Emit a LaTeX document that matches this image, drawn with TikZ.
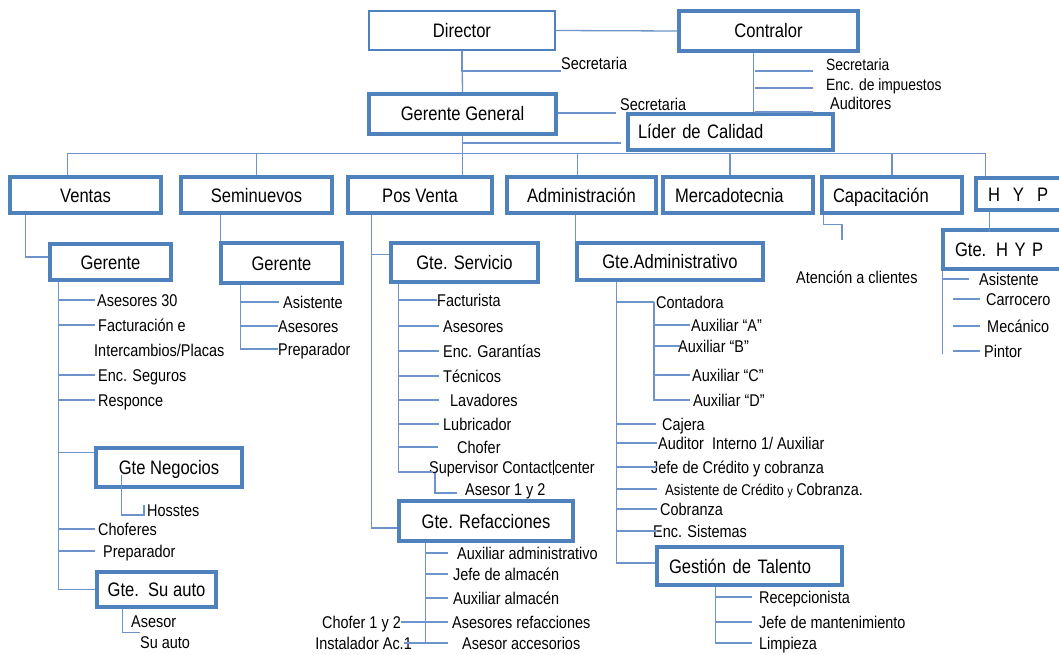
\documentclass[tikz,border=0pt]{standalone}
\usepackage{fontspec}
\setmainfont{Liberation Sans}[FakeStretch=0.85]
\usepackage{tikz}
\definecolor{bxblue}{RGB}{79,129,189}
\definecolor{lnblue}{RGB}{108,148,203}
\begin{document}
\begin{tikzpicture}[
		x=1pt, y=-1pt,
		caja/.style={
			rectangle,
			draw=bxblue,
			line width=3.3pt,
			fill=white,
			inner sep=0pt,
			text height=14pt,
			text depth=0pt,
			font=\fontsize{19.5}{22}\selectfont
		},
		cajafina/.style={
			caja,
			line width=1.2pt
		},
		etiq/.style={
			anchor=west,
			inner sep=0pt,
			text height=12pt,
			text depth=0pt,
			font=\fontsize{17}{20}\selectfont
		},
		etiqch/.style={
			etiq,
			text height=11.5pt,
			font=\fontsize{16.3}{19}\selectfont
		},
		etiqdos/.style={
			anchor=west,
			inner sep=0pt,
			align=left,
			font=\fontsize{17}{21}\selectfont
		},
		linea/.style={
			draw=lnblue,
			line width=1.3pt
		}
		]
		\useasboundingbox (0,0) rectangle (1059,655);
		\fill[white] (0,0) rectangle (1059,655);
		\clip (0,0) rectangle (1059,655);
		% Nodes
		\node[cajafina, minimum width=186, minimum height=39] (dir) at (462,30.5) {Director};
		\node[caja, minimum width=179, minimum height=40] (contr) at (768.5,31) {Contralor};
		\node[caja, minimum width=187, minimum height=40] (gg) at (462.5,114) {Gerente General};
		\node[caja, minimum width=205, minimum height=36, text width=185, align=left] (lider) at (730.5,132) {Líder de Calidad};
		\node[caja, minimum width=151, minimum height=36] (ventas) at (85.5,195) {Ventas};
		\node[caja, minimum width=151, minimum height=36] (semi) at (256.5,195) {Seminuevos};
		\node[caja, minimum width=144, minimum height=36] (posv) at (420,195) {Pos Venta};
		\node[caja, minimum width=149, minimum height=36] (admin) at (581.5,195) {Administración};
		\node[caja, minimum width=150, minimum height=36, text width=126, align=left] (merca) at (738,195) {Mercadotecnia};
		\node[caja, minimum width=140, minimum height=36, text width=118, align=left] (capac) at (892,195) {Capacitación};
		\node[caja, minimum width=94, minimum height=32, text width=70, align=left] (hyp) at (1023,194) {H\ \ Y\ \ P};
		\node[caja, minimum width=121, minimum height=36] (gerV) at (110.5,262) {Gerente};
		\node[caja, minimum width=121, minimum height=40] (gerS) at (281.5,263) {Gerente};
		\node[caja, minimum width=147, minimum height=39] (gser) at (464.5,262.5) {Gte. Servicio};
		\node[caja, minimum width=186, minimum height=37] (gadm) at (670,261.5) {Gte.Administrativo};
		\node[caja, minimum width=123, minimum height=39, text width=99, align=left] (ghyp) at (1004.5,249.5) {Gte. H Y P};
		\node[caja, minimum width=146, minimum height=39] (gneg) at (169,467.5) {Gte Negocios};
		\node[caja, minimum width=119, minimum height=35] (gsua) at (156.5,589.5) {Gte.\ \ Su auto};
		\node[caja, minimum width=174, minimum height=40] (gref) at (486,521) {Gte. Refacciones};
		\node[caja, minimum width=185, minimum height=38, text width=161, align=left] (gtal) at (749.5,566) {Gestión de Talento};
		% Labels
		\node[etiq] (dsec) at (561,64) {Secretaria};
		\node[etiq] (gsec) at (620,105) {Secretaria};
		\node[etiqch] (csec) at (826,65) {Secretaria};
		\node[etiqch] (cimp) at (826,85) {Enc. de impuestos};
		\node[etiq] (caud) at (830,104) {Auditores};
		\node[etiq] (a30) at (97,300) {Asesores 30};
		\node[etiq] (fact) at (98,325) {Facturación e};
		\node[etiq] (fact2) at (94,350) {Intercambios/Placas};
		\node[etiq] (seg) at (98,375) {Enc. Seguros};
		\node[etiq] (resp) at (98,400) {Responce};
		\node[etiq] (host) at (147,510) {Hosstes};
		\node[etiq] (chof) at (98,529) {Choferes};
		\node[etiq] (prep) at (103,551) {Preparador};
		\node[etiqdos] (asesu) at (131,632.4) {Asesor\\\hspace*{9pt}Su auto};
		\node[etiq] (asis) at (283,302) {Asistente};
		\node[etiq] (aseS) at (278,326) {Asesores};
		\node[etiq] (prepS) at (278,349) {Preparador};
		\node[etiq] (factu) at (437,300) {Facturista};
		\node[etiq] (aseP) at (443,326) {Asesores};
		\node[etiq] (garan) at (443,351) {Enc. Garantías};
		\node[etiq] (tecn) at (443,376) {Técnicos};
		\node[etiq] (lava) at (450,400) {Lavadores};
		\node[etiq] (lubr) at (443,424) {Lubricador};
		\node[etiq] (chofP) at (457,447) {Chofer};
		\node[etiq] (super) at (429,467) {Supervisor Contact\hspace{0.6pt}\rule[-2pt]{1.3pt}{15pt}\hspace{0.6pt}center};
		\node[etiq] (ase12) at (465,489) {Asesor 1 y 2};
		\node[etiq] (auxad) at (457,553) {Auxiliar administrativo};
		\node[etiq] (jefal) at (453,574) {Jefe de almacén};
		\node[etiq] (auxal) at (453,598) {Auxiliar almacén};
		\node[etiq] (aseref) at (452,622) {Asesores refacciones};
		\node[etiq] (aseacc) at (462,643) {Asesor accesorios};
		\node[etiq, anchor=east] (chof12) at (401,622) {Chofer 1 y 2};
		\node[etiq, anchor=east] (insta) at (412,643) {Instalador Ac.1};
		\node[etiq] (conta) at (656,302) {Contadora};
		\node[etiq] (auxA) at (691,325) {Auxiliar “A”};
		\node[etiq] (auxB) at (678,346) {Auxiliar “B”};
		\node[etiq] (auxC) at (692,375) {Auxiliar “C”};
		\node[etiq] (auxD) at (693,400) {Auxiliar “D”};
		\node[etiq] (caje) at (662,424) {Cajera};
		\node[etiq] (audi) at (658,443) {Auditor\ \ Interno 1/ Auxiliar};
		\node[etiq] (jefcr) at (651,467) {Jefe de Crédito y cobranza};
		\node[etiq] (asicr) at (665,489) {{\fontsize{15.5}{18}\selectfont Asistente de Crédito {\fontsize{12}{14}\selectfont y} }Cobranza.};
		\node[etiq] (cobr) at (660,509) {Cobranza};
		\node[etiq] (sist) at (653,531) {Enc. Sistemas};
		\node[etiq] (recep) at (759,597) {Recepcionista};
		\node[etiq] (jefm) at (759,622) {Jefe de mantenimiento};
		\node[etiq] (limp) at (759,643) {Limpieza};
		\node[etiq] (aten) at (796,277) {Atención a clientes};
		\node[etiq] (hasis) at (979,279) {Asistente};
		\node[etiq] (carr) at (986,299) {Carrocero};
		\node[etiq] (meca) at (987,326) {Mecánico};
		\node[etiq] (pint) at (984,351) {Pintor};
		% Connectors: top
		\draw[linea] (dir.east) -- (contr.west);
		\draw[linea] (dir.south) -- (gg.north);
		\draw[linea] ([yshift=-7]dsec.west) -| (dir.south);
		\draw[linea] ([yshift=1]gg.east) -- ([xshift=-4,yshift=-8]gsec.west);
		\draw[linea] ([xshift=76]contr.south west) -- ([xshift=127]lider.north west);
		\foreach \n/\dx/\dy in {csec/-13/-6, cimp/-13/-3, caud/-17/-8}
		\draw[linea] ([xshift=\dx,yshift=\dy]\n.west) -- ++(-58,0);
		\draw[linea] ([xshift=-5,yshift=-11]lider.west) -| (gg.south);
		\draw[linea] (gg.south) -- (gg.south |- posv.north);
		% Connectors: departments
		\draw[linea] ([xshift=-18]ventas.north) -- ++(0,-22) -- ++(918,0) -- ++(0,23);
		\foreach \n/\dx in {semi/0, admin/-4, merca/-8, capac/0}
		\draw[linea] ([xshift=\dx]\n.north) -- ++(0,-22);
		% Ventas
		\draw[linea] ([xshift=-60]ventas.south) |- ([yshift=5]gerV.west);
		\foreach \n/\dx in {a30/-2, fact/-3, seg/-3, resp/-3, chof/-3, prep/-8}
		\draw[linea] ([xshift=10]gerV.south west) |- ([xshift=\dx]\n.west);
		\draw[linea] ([xshift=10]gerV.south west) |- ([yshift=15]gneg.west);
		\draw[linea] ([xshift=10]gerV.south west) |- (gsua.west);
		\draw[linea] ([xshift=27,yshift=14]gneg.south west) |- ([xshift=-3,yshift=-5]host.west) -- ++(0,-10);
		\draw[linea] ([xshift=27]gsua.south west) |- ([xshift=9]asesu.west);
		% Seminuevos
		\draw[linea] ([xshift=41]semi.south west) -- ([xshift=1]gerS.north west);
		\foreach \n/\dx in {asis/-4, aseS/0, prepS/0}
		\draw[linea] ([xshift=21]gerS.south west) |- ([xshift=\dx]\n.west);
		% Pos Venta
		\draw[linea] ([xshift=25]posv.south west) |- ([yshift=8]gser.west);
		\draw[linea] ([xshift=25]posv.south west) |- ([yshift=-7]gref.west);
		\foreach \n/\dx in {factu/0, aseP/-4, garan/-4, tecn/-4, lava/-11, lubr/-4, chofP/-19}
		\draw[linea] ([xshift=9]gser.south west) |- ([xshift=\dx]\n.west);
		\draw[linea] ([xshift=9]gser.south west) |- ([xshift=4,yshift=-5]super.west);
		\draw[linea] ([xshift=6,yshift=-6]super.west) |- ([xshift=-8,yshift=-4]ase12.west);
		\foreach \n/\dx in {auxad/-9, jefal/-5, auxal/-5, aseref/-4, aseacc/-14}
		\draw[linea] ([xshift=28]gref.south west) |- ([xshift=\dx]\n.west);
		\draw[linea] (chof12.east) -- ([xshift=-4]aseref.west);
		\draw[linea] ([xshift=-8]insta.east) -- ([xshift=-14]aseacc.west);
		% Administracion
		\draw[linea] ([xshift=70]admin.south west) -- (gadm.north west);
		\foreach \n/\dx in {conta/-2, caje/-6, audi/-1, jefcr/6, asicr/-8, cobr/-3, sist/4}
		\draw[linea] ([xshift=41]gadm.south west) |- ([xshift=\dx]\n.west);
		\draw[linea] ([xshift=41]gadm.south west) |- ([yshift=3]gtal.west);
		\foreach \n/\dx in {auxA/-1, auxB/2, auxC/-2, auxD/-3}
		\draw[linea] ([xshift=-2]conta.west) |- ([xshift=\dx]\n.west);
		\foreach \n in {recep, jefm, limp}
		\draw[linea] ([xshift=60]gtal.south west) |- ([xshift=-7]\n.west);
		% Capacitacion
		\coordinate (capend) at (842,240);
		\draw[linea] ([xshift=3]capac.south west) -- ++(0,10) -| (capend);
		% H Y P
		\draw[linea] ([xshift=15]hyp.south west) -- ++(0,20);
		\draw[linea] ([xshift=1]ghyp.south west) -- ++(0,83);
		\draw[linea] ([xshift=-37]hasis.west) -- ([xshift=-10]hasis.west);
		\foreach \n/\dx in {carr/-33, meca/-34, pint/-31}
		\draw[linea] ([xshift=\dx]\n.west) -- ++(27,0);
	\end{tikzpicture}
\end{document}
